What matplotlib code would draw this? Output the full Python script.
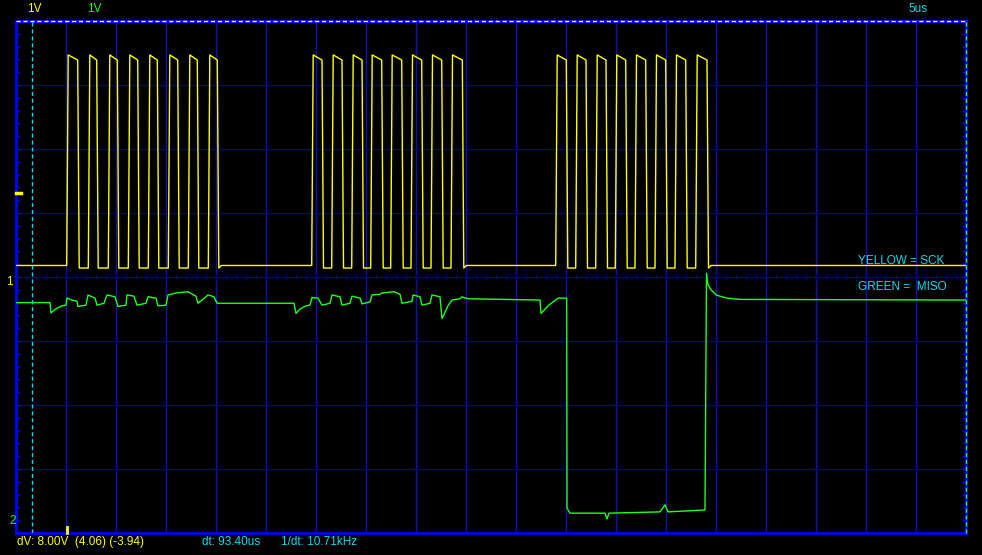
import numpy as np
import matplotlib.pyplot as plt
from matplotlib.ticker import MultipleLocator

# time in us (5us/div), level in divisions (1V/div)
sck_rises = [[5.07, 7.23, 9.23, 11.23, 13.23, 15.23, 17.23, 19.23],
             [29.57, 31.57, 33.57, 35.47, 37.47, 39.5, 41.5, 43.5],
             [53.97, 55.97, 57.97, 59.93, 61.9, 63.9, 65.9, 67.97]]
sck_falls = [[6.17, 8.07, 10.13, 12.17, 14.13, 16.17, 18.13, 20.13],
             [30.6, 32.6, 34.6, 36.57, 38.57, 40.57, 42.57, 44.63],
             [55.03, 57.0, 59.0, 60.97, 62.97, 64.97, 66.97, 69.1]]
sck_idle = 0.18
sck_low = 0.14
sck_high_start = 3.47
sck_high_end = 3.39

miso_t = [0, 3.4, 3.5, 3.8, 4.2, 4.6, 5.0, 5.1, 5.6, 6.1,
          6.2, 7.0, 7.2, 7.9, 8.1, 8.8, 9.1, 9.9, 10.2, 11.0,
          11.1, 11.8, 12.1, 13.0, 13.2, 14.0, 14.2, 15.0, 15.2, 16.0,
          17.2, 18.0, 18.2, 19.0, 19.2, 19.8, 20.1, 27.8, 28.0, 28.4,
          29.0, 29.4, 29.6, 30.2, 30.6, 31.4, 31.6, 32.4, 32.6, 33.4,
          33.6, 34.4, 34.6, 35.4, 35.6, 36.4, 36.6, 37.8, 38.4, 38.6,
          39.6, 39.7, 40.4, 40.6, 41.4, 41.6, 42.4, 42.6, 43.2, 43.6,
          44.4, 44.6, 45.2, 52.4, 52.5, 53.2, 54.2, 55.07, 55.1, 55.4,
          58.9, 59.1, 59.3, 64.4, 64.9, 65.2, 68.9, 69.05, 69.2, 69.5,
          69.7, 70.0, 70.4, 71.1, 72.4, 95.0]
miso_v = [-0.40, -0.40, -0.56, -0.52, -0.48, -0.45, -0.44, -0.33, -0.36, -0.38,
          -0.46, -0.44, -0.28, -0.33, -0.44, -0.41, -0.28, -0.31, -0.46, -0.44,
          -0.28, -0.30, -0.44, -0.41, -0.31, -0.33, -0.45, -0.44, -0.28, -0.25,
          -0.23, -0.30, -0.41, -0.31, -0.28, -0.31, -0.41, -0.41, -0.57, -0.50,
          -0.45, -0.44, -0.32, -0.33, -0.44, -0.41, -0.28, -0.31, -0.44, -0.41,
          -0.30, -0.33, -0.42, -0.39, -0.28, -0.27, -0.25, -0.23, -0.27, -0.41,
          -0.38, -0.28, -0.31, -0.44, -0.41, -0.28, -0.31, -0.65, -0.45, -0.36,
          -0.34, -0.31, -0.34, -0.36, -0.57, -0.45, -0.33, -0.33, -3.61, -3.69,
          -3.69, -3.78, -3.69, -3.67, -3.56, -3.67, -3.64, 0.06, -0.12, -0.20,
          -0.23, -0.28, -0.30, -0.33, -0.35, -0.36]

cursor_t1 = 1.6
cursor_t2 = 95.0
trig_level = 1.315
trig_time = 5.1

YEL = '#ffff00'
GRN = '#20ff20'
CYAN = '#10d8f0'
GRID_V = '#1010b4'
GRID_H = '#000088'
FRAME = '#0000ff'

# build the clock trace from its edges
edge = 0.15
sck_t = [0.0]
sck_v = [sck_idle]
for rises, falls in zip(sck_rises, sck_falls):
    for r, f in zip(rises, falls):
        sck_t += [r, r + edge, f, f + edge]
        sck_v += [sck_v[-1], sck_high_start, sck_high_end, sck_low]
    sck_t.append(falls[-1] + 0.4)
    sck_v.append(sck_idle)
sck_t.append(95.0)
sck_v.append(sck_idle)

plt.rcParams['font.family'] = ['Liberation Sans', 'DejaVu Sans']

fig = plt.figure(figsize=(9.82, 5.55), dpi=100, facecolor='black')
ax = fig.add_axes([16 / 982, 22 / 555, 950 / 982, 512 / 555])
ax.set_facecolor('black')
ax.set_xlim(0, 95)
ax.set_ylim(-4, 4)

for x in np.arange(5, 95, 5):
    ax.axvline(x, color=GRID_V, lw=1, zorder=1)
for y in np.arange(-3, 4, 1):
    ax.axhline(y, color=GRID_H, lw=1, zorder=1)
ax.plot(np.arange(0, 96, 1), np.zeros(96), '|', color=GRID_H, ms=4, mew=1, zorder=1)

ax.set_xticks([])
ax.set_yticks([])
ax.yaxis.set_minor_locator(MultipleLocator(0.2))
ax.tick_params(axis='y', which='minor', direction='in', length=3, width=1,
               color=FRAME, left=True, right=True)
for s in ax.spines.values():
    s.set_color(FRAME)
    s.set_linewidth(2)

ax.axhline(4, color='white', lw=1, dashes=(3, 2), zorder=5, clip_on=False)
ax.axvline(cursor_t1, color=CYAN, lw=1, dashes=(3, 2), zorder=5)
ax.axvline(cursor_t2, color=GRN, lw=1, dashes=(3, 2), zorder=5, clip_on=False)

ax.plot(sck_t, sck_v, color=YEL, lw=1, zorder=3)
ax.plot(miso_t, miso_v, color=GRN, lw=1, zorder=4)

ax.plot([0, 0.5], [trig_level, trig_level], color=YEL, lw=2.5, clip_on=False, zorder=6)
ax.plot([trig_time, trig_time], [-3.9, -4.0], color=YEL, lw=2, clip_on=False, zorder=6)

def px(x, y, s, c, ha='left'):
    fig.text(x / 982, 1 - y / 555, s, color=c, fontsize=8.5, ha=ha, va='center')

px(27, 9.5, '1V', YEL)
px(87, 9.5, '1V', GRN)
px(908, 9.5, '5us', CYAN)
px(17, 542, 'dV: 8.00V  (4.06) (-3.94)', YEL)
px(202, 542, 'dt: 93.40us', CYAN)
px(281, 542, '1/dt: 10.71kHz', CYAN)
px(858, 261, 'YELLOW = SCK', CYAN)
px(858, 287, 'GREEN =  MISO', CYAN)
px(6.5, 282, '1', YEL)
px(9, 521, '2', GRN)

fig.savefig('out.png', dpi=100, facecolor='black')
